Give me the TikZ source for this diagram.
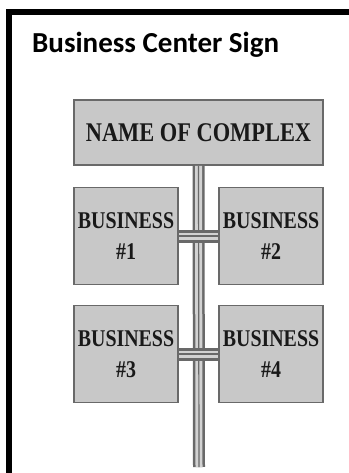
\documentclass[tikz,border=0pt]{standalone}
\usepackage{fontspec}
\usepackage{tikz}
\usetikzlibrary{positioning}
\newfontfamily\titlefont{Carlito}
\newfontfamily\signfont{Liberation Serif}[FakeStretch=0.83]
\definecolor{signgray}{RGB}{200,200,200}
\definecolor{edgegray}{RGB}{105,105,105}
\definecolor{polelight}{RGB}{210,210,210}
\definecolor{inkdark}{RGB}{25,25,25}

\begin{document}
\begin{tikzpicture}[
    x=1pt, y=-1pt,
    signbox/.style={draw=edgegray, line width=1.8, fill=signgray, text=inkdark,
                    inner sep=0, align=center},
    bizbox/.style={signbox, minimum width=104, minimum height=97,
                   font=\signfont\bfseries\fontsize{24}{31}\selectfont},
    post/.style={draw=edgegray, line width=12,
                 postaction={draw=polelight, line width=7},
                 postaction={draw=edgegray, line width=1.2}},
    bar/.style={draw=edgegray, line width=13,
                postaction={draw=polelight, line width=7},
                postaction={draw=edgegray, line width=1.2}}
]
\useasboundingbox (0,0) rectangle (348,473);
% outer frame
\draw[line width=6] (9,476) -- (9,12.5) -- (351,12.5);
\node[anchor=base west, inner sep=0, font=\titlefont\bfseries\fontsize{29}{34}\selectfont]
     (title) at (32,53) {Business Center Sign};
% sign post
\coordinate (postend) at (199,467);
\node[signbox, minimum width=249, minimum height=65,
      font=\signfont\bfseries\fontsize{27}{32}\selectfont] (complex) at (198.5,132.5) {NAME OF COMPLEX};
\node[bizbox] (biz1) at (126,236) {BUSINESS\\\#1};
\node[bizbox] (biz2) at (271,236) {BUSINESS\\\#2};
\node[bizbox] (biz3) at (126,354) {BUSINESS\\\#3};
\node[bizbox] (biz4) at (271,354) {BUSINESS\\\#4};
\draw[post] (complex.south) -- (postend);
\draw[bar] (biz1.east) -- (biz2.west);
\draw[bar] (biz3.east) -- (biz4.west);
\end{tikzpicture}
\end{document}
